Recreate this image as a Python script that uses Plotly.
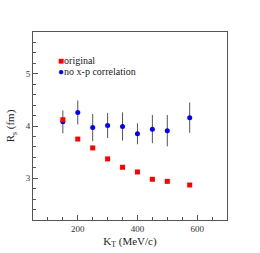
import plotly.graph_objects as go

kt = [150, 200, 250, 300, 350, 400, 450, 500, 575]
rs_original = [4.12, 3.75, 3.58, 3.37, 3.21, 3.12, 2.98, 2.94, 2.87]
rs_noxp = [4.08, 4.26, 3.97, 4.01, 3.99, 3.85, 3.94, 3.91, 4.16]
rs_noxp_err = [0.22, 0.23, 0.26, 0.24, 0.27, 0.20, 0.27, 0.30, 0.29]

FONT = "Times New Roman, Liberation Serif, Tinos, serif"

fig = go.Figure()
fig.add_trace(go.Scatter(
    x=kt, y=rs_noxp, mode="markers", name="no x-p correlation",
    marker=dict(color="#0000ff", size=5, symbol="circle"),
    error_y=dict(type="data", array=rs_noxp_err, visible=True,
                 color="#555555", thickness=1, width=0),
))
fig.add_trace(go.Scatter(
    x=kt, y=rs_original, mode="markers", name="original",
    marker=dict(color="#ff0000", size=5, symbol="square"),
))

fig.add_annotation(xref="paper", yref="paper", x=0.12, y=0.848,
                   xanchor="left", yanchor="middle", showarrow=False,
                   text="<span style='color:#ff0000'>■</span>original",
                   font=dict(family=FONT, size=10, color="#222"))
fig.add_annotation(xref="paper", yref="paper", x=0.12, y=0.79,
                   xanchor="left", yanchor="middle", showarrow=False,
                   text="<span style='color:#0000ff'>●</span>no x-p correlation",
                   font=dict(family=FONT, size=10, color="#222"))

axis_common = dict(showline=True, mirror=True, linecolor="#555555", linewidth=1,
                   ticks="inside", tickcolor="#555555", ticklen=5, showgrid=False,
                   zeroline=False, automargin=False, ticklabelstandoff=0,
                   tickfont=dict(family=FONT, size=9, color="#333"))
fig.update_xaxes(range=[50, 700], dtick=200, tick0=0,
                 title=dict(text="K<sub>T</sub> (MeV/c)", font=dict(family=FONT, size=11, color="#222"), standoff=4),
                 minor=dict(dtick=50, tick0=0, ticks="inside", ticklen=3, tickcolor="#555555"),
                 **axis_common)
fig.update_yaxes(range=[2.2, 5.8], dtick=1, tick0=0,
                 title=dict(text="R<sub>s</sub> (fm)", font=dict(family=FONT, size=11, color="#222"), standoff=8),
                 minor=dict(dtick=0.2, tick0=0, ticks="inside", ticklen=3, tickcolor="#555555"),
                 **axis_common)

fig.update_layout(width=260, height=253, showlegend=False,
                  font=dict(family=FONT),
                  margin=dict(l=33, r=33, t=32, b=33),
                  paper_bgcolor="white", plot_bgcolor="white")
fig.write_html("out.html", config={"displayModeBar": False},
               post_script="document.body.style.margin='0';document.body.style.overflow='hidden';")
